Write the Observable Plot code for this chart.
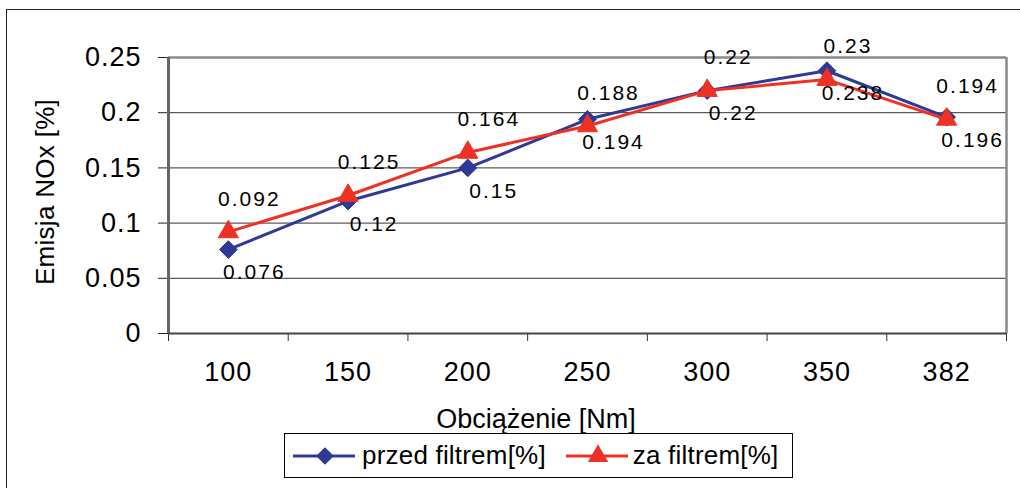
<!DOCTYPE html>
<html>
<head>
<meta charset="utf-8">
<script src="https://cdn.jsdelivr.net/npm/d3@7"></script>
<script src="https://cdn.jsdelivr.net/npm/@observablehq/plot@0.6"></script>
<style>
  html, body { margin: 0; padding: 0; background: #fff; }
  body { width: 1020px; height: 488px; overflow: hidden; position: relative; font-family: "Liberation Sans", Arial, sans-serif; }
  #outer { position: absolute; left: 6px; top: 9px; width: 1040px; height: 500px; border: 1.5px solid #222; box-sizing: border-box; }
  #chart { position: absolute; left: 0; top: 0; }
  #chart svg g[aria-label="y-axis tick label"] text,
  #chart svg g[aria-label="x-axis tick label"] text { letter-spacing: 1px; }
  #chart svg g[aria-label="text"] text { letter-spacing: 2px; }
  .title { position: absolute; color: #000; white-space: nowrap; }
  #ytitle { left: 45px; top: 192px; font-size: 26px; letter-spacing: 0.3px; transform: translate(-50%, -50%) rotate(-90deg); }
  #xtitle { left: 536px; top: 419px; font-size: 27px; transform: translate(-50%, -50%); }
  #legend { position: absolute; left: 284px; top: 433px; width: 509px; height: 45px; border: 1.5px solid #000; box-sizing: border-box; display: flex; align-items: center; font-size: 26px; letter-spacing: 0.2px; }
  #legend .item { display: flex; align-items: center; }
  #legend svg { display: block; }
</style>
</head>
<body>
<div id="outer"></div>
<div id="chart"></div>
<div id="ytitle" class="title">Emisja NOx [%]</div>
<div id="xtitle" class="title">Obciążenie [Nm]</div>
<div id="legend"></div>
<script>
const categories = ["100", "150", "200", "250", "300", "350", "382"];
const przedFiltrem = [0.076, 0.12, 0.15, 0.194, 0.22, 0.238, 0.196];
const zaFiltrem = [0.092, 0.125, 0.164, 0.188, 0.22, 0.23, 0.194];
const yTicks = [0, 0.05, 0.1, 0.15, 0.2, 0.25];
const seriesNames = ["przed filtrem[%]", "za filtrem[%]"];
const blue = "#2E3A94";
const red = "#EE3124";

const idx = categories.map((_, i) => i);
const bounds = [...idx.map(i => i - 0.5), categories.length - 0.5];
const blueData = idx.map(i => ({i, v: przedFiltrem[i]}));
const redData = idx.map(i => ({i, v: zaFiltrem[i]}));
const fmtY = d => String(+d.toFixed(2));

const plot = Plot.plot({
  width: 1020,
  height: 488,
  marginLeft: 168,
  marginRight: 14,
  marginTop: 57,
  marginBottom: 155,
  style: { fontFamily: "'Liberation Sans', Arial, sans-serif", background: "transparent", color: "#000" },
  x: { type: "linear", domain: [-0.5, categories.length - 0.5] },
  y: { domain: [0, 0.25] },
  marks: [
    Plot.gridY(yTicks.slice(1, -1), { stroke: "#333", strokeOpacity: 1, strokeWidth: 1 }),
    Plot.ruleY([0.25], { stroke: "#8a8a8a", strokeWidth: 2.5 }),
    Plot.ruleX([categories.length - 0.5], { stroke: "#8a8a8a", strokeWidth: 2.5 }),
    Plot.axisY(yTicks, { tickSize: 10, tickPadding: 17, tickFormat: fmtY, fontSize: 27, stroke: "#222", label: null }),
    Plot.axisX(bounds, { tickSize: 8, text: null, stroke: "#333", label: null }),
    Plot.axisX(idx, { tickSize: 0, tickPadding: 28, tickFormat: i => categories[i], fontSize: 27, label: null }),
    Plot.ruleY([0], { stroke: "#444", strokeWidth: 2 }),
    Plot.ruleX([-0.5], { stroke: "#666", strokeWidth: 3 }),
    Plot.line(blueData, { x: "i", y: "v", stroke: blue, strokeWidth: 3 }),
    Plot.dot(blueData, { x: "i", y: "v", symbol: "diamond2", r: 8, fill: blue, stroke: blue, strokeWidth: 1 }),
    Plot.line(redData, { x: "i", y: "v", stroke: red, strokeWidth: 3 }),
    Plot.dot(redData, { x: "i", y: "v", symbol: "triangle", r: 7.5, fill: red, stroke: red, strokeWidth: 1 }),
    Plot.text(blueData, { x: "i", y: "v", text: d => String(d.v), dx: 26, dy: 23, fontSize: 21, fill: "#000" }),
    Plot.text(redData, { x: "i", y: "v", text: d => String(d.v), dx: 21, dy: -33, fontSize: 21, fill: "#000" })
  ]
});
document.getElementById("chart").appendChild(plot);

// Legend
const legend = document.getElementById("legend");
const symbols = [d3.symbolDiamond2, d3.symbolTriangle];
const colors = [blue, red];
const itemMargins = [8, 20];
const textMargins = [7, 5];
seriesNames.forEach((name, k) => {
  const item = document.createElement("div");
  item.className = "item";
  item.style.marginLeft = itemMargins[k] + "px";
  const s = d3.create("svg").attr("width", 62).attr("height", 30);
  s.append("line").attr("x1", 0).attr("x2", 62).attr("y1", 15).attr("y2", 15).attr("stroke", colors[k]).attr("stroke-width", 3);
  s.append("path").attr("d", d3.symbol(symbols[k], k === 0 ? 200 : 180)()).attr("transform", "translate(32,15)").attr("fill", colors[k]);
  item.appendChild(s.node());
  const t = document.createElement("span");
  t.textContent = name;
  t.style.marginLeft = textMargins[k] + "px";
  item.appendChild(t);
  legend.appendChild(item);
});
</script>
</body>
</html>
